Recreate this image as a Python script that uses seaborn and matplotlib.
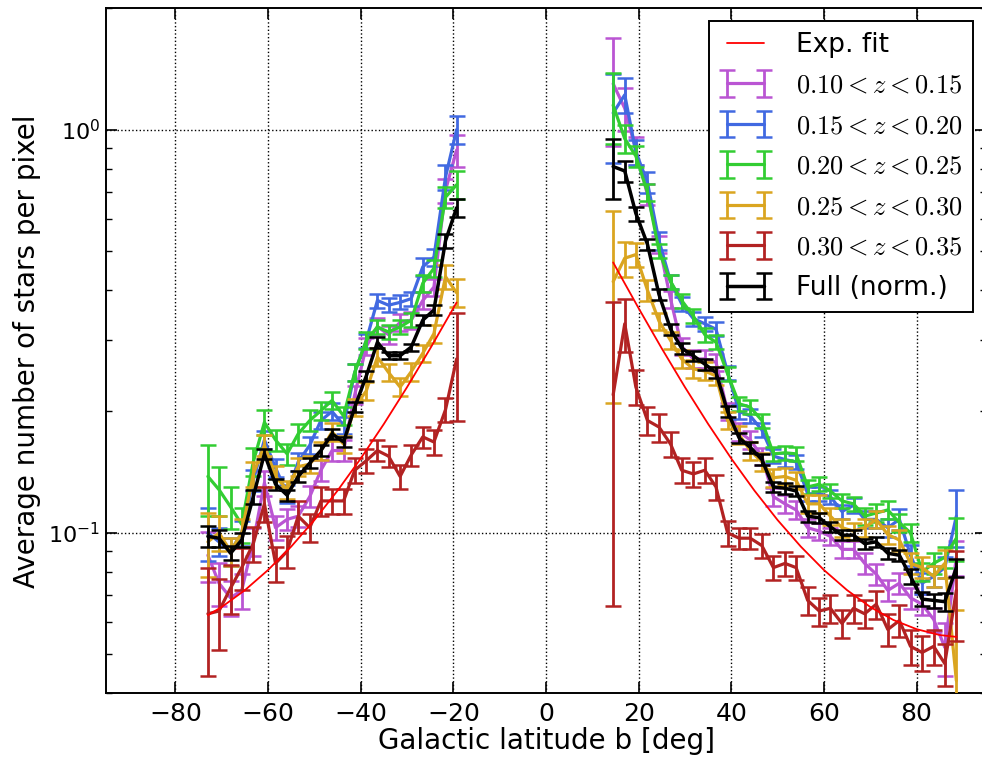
import numpy as np
import pandas as pd
import matplotlib
matplotlib.use("Agg")
import matplotlib.pyplot as plt
import seaborn as sns

# ---------------- data ----------------
b_south = [-73.0, -70.6, -68.1, -65.7, -63.2, -60.8, -58.4, -55.9, -53.5, -51.0, -48.6, -46.2,
           -43.7, -41.3, -38.8, -36.4, -34.0, -31.5, -29.1, -26.6, -24.2, -21.7, -19.3]
b_north = [14.5, 17.0, 19.4, 21.9, 24.4, 26.9, 29.3, 31.8, 34.3, 36.7, 39.2, 41.7, 44.1, 46.6,
           49.1, 51.6, 54.0, 56.5, 59.0, 61.4, 63.9, 66.4, 68.8, 71.3, 73.8, 76.3, 78.7, 81.2,
           83.7, 86.1, 88.6]

labels = [r"$0.10<z<0.15$", r"$0.15<z<0.20$", r"$0.20<z<0.25$",
          r"$0.25<z<0.30$", r"$0.30<z<0.35$", "Full (norm.)"]
colors = ["#BA55D3", "#4169E1", "#32CD32", "#DAA520", "#B22222", "black"]

purple_s = [0.088, 0.075, 0.069, 0.072, 0.095, 0.133, 0.103, 0.108, 0.110, 0.123, 0.143, 0.160,
            0.160, 0.220, 0.290, 0.325, 0.310, 0.333, 0.337, 0.377, 0.407, 0.707, 0.890]
blue_s = [0.100, 0.095, 0.090, 0.100, 0.135, 0.170, 0.145, 0.125, 0.150, 0.165, 0.190, 0.200,
          0.185, 0.250, 0.300, 0.377, 0.367, 0.373, 0.381, 0.457, 0.483, 0.763, 1.000]
green_s = [0.138, 0.128, 0.116, 0.105, 0.150, 0.188, 0.170, 0.157, 0.176, 0.190, 0.201, 0.213,
           0.195, 0.250, 0.300, 0.324, 0.315, 0.324, 0.337, 0.416, 0.453, 0.680, 0.730]
orange_s = [0.095, 0.100, 0.090, 0.100, 0.140, 0.165, 0.138, 0.128, 0.146, 0.148, 0.160, 0.178,
            0.166, 0.205, 0.225, 0.273, 0.250, 0.230, 0.251, 0.279, 0.312, 0.432, 0.394]
red_s = [0.063, 0.064, 0.073, 0.082, 0.094, 0.118, 0.084, 0.090, 0.110, 0.103, 0.120, 0.120,
         0.120, 0.143, 0.151, 0.160, 0.155, 0.138, 0.156, 0.173, 0.168, 0.202, 0.270]
black_s = [0.098, 0.097, 0.089, 0.096, 0.123, 0.157, 0.132, 0.124, 0.138, 0.149, 0.160, 0.176,
           0.168, 0.205, 0.245, 0.297, 0.275, 0.275, 0.289, 0.337, 0.357, 0.530, 0.640]

purple_n = [1.30, 1.13, 0.89, 0.69, 0.52, 0.38, 0.29, 0.27, 0.27, 0.265, 0.20, 0.178, 0.170,
            0.155, 0.123, 0.118, 0.114, 0.103, 0.101, 0.098, 0.091, 0.091, 0.084, 0.079, 0.072,
            0.075, 0.069, 0.0665, 0.061, 0.052, 0.087]
blue_n = [1.10, 1.22, 0.88, 0.74, 0.53, 0.42, 0.37, 0.34, 0.33, 0.32, 0.25, 0.20, 0.195, 0.18,
          0.155, 0.152, 0.150, 0.125, 0.125, 0.123, 0.113, 0.117, 0.108, 0.108, 0.103, 0.108,
          0.088, 0.075, 0.078, 0.082, 0.110]
green_n = [1.15, 0.95, 0.86, 0.70, 0.50, 0.42, 0.377, 0.345, 0.31, 0.297, 0.248, 0.209, 0.205,
           0.19, 0.157, 0.158, 0.157, 0.13, 0.132, 0.127, 0.12, 0.118, 0.11, 0.112, 0.114, 0.106,
           0.10, 0.08, 0.084, 0.087, 0.097]
orange_n = [0.42, 0.48, 0.49, 0.40, 0.335, 0.30, 0.27, 0.255, 0.252, 0.245, 0.19, 0.175, 0.16,
            0.15, 0.137, 0.138, 0.135, 0.118, 0.118, 0.11, 0.103, 0.101, 0.103, 0.108, 0.099,
            0.096, 0.084, 0.082, 0.078, 0.084, 0.043]
red_n = [0.22, 0.33, 0.23, 0.19, 0.183, 0.166, 0.143, 0.14, 0.143, 0.13, 0.10, 0.097, 0.097,
         0.093, 0.082, 0.084, 0.082, 0.068, 0.064, 0.065, 0.0596, 0.065, 0.063, 0.0665, 0.0576,
         0.0606, 0.0523, 0.0505, 0.0523, 0.0474, 0.072]
black_n = [0.81, 0.79, 0.62, 0.52, 0.39, 0.32, 0.287, 0.275, 0.262, 0.25, 0.20, 0.172, 0.163,
           0.152, 0.13, 0.129, 0.127, 0.11, 0.109, 0.1035, 0.0987, 0.0987, 0.094, 0.095, 0.089,
           0.088, 0.078, 0.0685, 0.068, 0.0675, 0.082]

# relative errors (fraction of value)
rel_purple_s = [0.14, 0.12, 0.10, 0.10, 0.08, 0.07, 0.07, 0.06, 0.06, 0.06, 0.06, 0.06, 0.06,
                0.05, 0.05, 0.05, 0.05, 0.05, 0.05, 0.05, 0.05, 0.07, 0.09]
rel_blue_s = [0.15, 0.08, 0.08, 0.07, 0.06, 0.05, 0.05, 0.05, 0.05, 0.05, 0.05, 0.05, 0.05,
              0.05, 0.04, 0.04, 0.04, 0.04, 0.04, 0.05, 0.05, 0.07, 0.08]
rel_green_s = [0.20, 0.14, 0.12, 0.10, 0.08, 0.07, 0.06, 0.06, 0.06, 0.06, 0.05, 0.05, 0.05,
               0.05, 0.05, 0.04, 0.04, 0.04, 0.04, 0.05, 0.05, 0.06, 0.08]
rel_orange_s = [0.18, 0.10, 0.08, 0.08, 0.07, 0.06, 0.06, 0.05, 0.05, 0.05, 0.05, 0.05, 0.05,
                0.05, 0.05, 0.05, 0.05, 0.05, 0.05, 0.05, 0.05, 0.07, 0.08]
rel_red_s = [0.30, 0.20, 0.14, 0.12, 0.10, 0.10, 0.10, 0.09, 0.09, 0.08, 0.08, 0.07, 0.07,
             0.07, 0.07, 0.06, 0.06, 0.07, 0.06, 0.06, 0.07, 0.07, 0.30]
rel_black_s = [0.06, 0.05, 0.04, 0.04, 0.04, 0.03, 0.03, 0.03, 0.03, 0.03, 0.03, 0.03, 0.03,
               0.03, 0.03, 0.03, 0.02, 0.02, 0.02, 0.03, 0.03, 0.04, 0.05]

rel_purple_n = [0.30, 0.12, 0.08, 0.06, 0.05, 0.05, 0.05, 0.05, 0.05, 0.05, 0.05, 0.05, 0.05,
                0.05, 0.05, 0.05, 0.05, 0.05, 0.05, 0.05, 0.05, 0.05, 0.06, 0.06, 0.06, 0.06,
                0.06, 0.06, 0.07, 0.15, 0.10]
rel_blue_n = [0.25, 0.10, 0.07, 0.06, 0.05, 0.04, 0.04, 0.04, 0.04, 0.04, 0.04, 0.04, 0.04,
              0.04, 0.04, 0.04, 0.04, 0.04, 0.04, 0.04, 0.04, 0.04, 0.05, 0.05, 0.05, 0.06,
              0.06, 0.06, 0.06, 0.06, 0.16]
rel_green_n = [0.20, 0.08, 0.06, 0.05, 0.04, 0.04, 0.04, 0.04, 0.04, 0.04, 0.04, 0.04, 0.04,
               0.04, 0.04, 0.04, 0.04, 0.04, 0.04, 0.04, 0.04, 0.04, 0.05, 0.05, 0.05, 0.05,
               0.05, 0.05, 0.06, 0.06, 0.12]
rel_orange_n = [0.50, 0.10, 0.07, 0.06, 0.05, 0.05, 0.05, 0.05, 0.05, 0.05, 0.05, 0.05, 0.05,
                0.05, 0.05, 0.05, 0.05, 0.05, 0.05, 0.05, 0.05, 0.05, 0.05, 0.05, 0.05, 0.06,
                0.06, 0.06, 0.06, 0.08, 0.50]
rel_red_n = [0.70, 0.15, 0.10, 0.08, 0.08, 0.07, 0.07, 0.07, 0.07, 0.07, 0.07, 0.06, 0.06,
             0.07, 0.07, 0.07, 0.07, 0.08, 0.08, 0.08, 0.08, 0.08, 0.08, 0.08, 0.09, 0.09,
             0.10, 0.10, 0.10, 0.12, 0.25]
rel_black_n = [0.17, 0.06, 0.04, 0.03, 0.03, 0.03, 0.03, 0.03, 0.03, 0.03, 0.03, 0.03, 0.03,
               0.03, 0.03, 0.03, 0.03, 0.03, 0.03, 0.03, 0.03, 0.03, 0.03, 0.03, 0.03, 0.03,
               0.04, 0.04, 0.04, 0.05, 0.05]

# exponential fit curve
fit_b_south = [-73.0, -70.0, -65.0, -60.0, -55.0, -50.0, -45.0, -40.0, -35.0, -30.0, -25.0, -19.3]
fit_n_south = [0.0625, 0.0655, 0.0721, 0.0809, 0.0925, 0.1076, 0.1273, 0.1529, 0.1863, 0.2298,
               0.2866, 0.3727]
fit_b_north = [14.5, 17.0, 20.0, 25.0, 30.0, 35.0, 40.0, 45.0, 50.0, 55.0, 60.0, 65.0, 70.0,
               75.0, 80.0, 85.0, 88.6]
fit_n_north = [0.4685, 0.4156, 0.3607, 0.2866, 0.2298, 0.1863, 0.1529, 0.1273, 0.1076, 0.0925,
               0.0809, 0.0721, 0.0655, 0.0608, 0.0577, 0.0558, 0.0552]

south = [purple_s, blue_s, green_s, orange_s, red_s, black_s]
north = [purple_n, blue_n, green_n, orange_n, red_n, black_n]
rel_south = [rel_purple_s, rel_blue_s, rel_green_s, rel_orange_s, rel_red_s, rel_black_s]
rel_north = [rel_purple_n, rel_blue_n, rel_green_n, rel_orange_n, rel_red_n, rel_black_n]

# ---------------- style ----------------
sns.set_style("ticks")
plt.rcParams.update({
    "font.family": ["DejaVu Sans"],
    "mathtext.fontset": "cm",
    "xtick.direction": "in",
    "ytick.direction": "in",
    "xtick.top": True,
    "ytick.right": True,
    "axes.edgecolor": "black",
    "axes.linewidth": 1.4,
    "xtick.color": "black",
    "ytick.color": "black",
    "text.color": "black",
    "axes.labelcolor": "black",
})

fig = plt.figure(figsize=(9.82, 7.59), dpi=100)
ax = fig.add_axes([106 / 982, 65.7 / 759, 880 / 982, 685 / 759])

handles = []
for i, (lab, col) in enumerate(zip(labels, colors)):
    lw = 2.5 if col == "black" else 2.3
    ys, yn = np.array(south[i]), np.array(north[i])
    kw = dict(color=col, lw=lw, elinewidth=2.0, capsize=5.5, capthick=1.8, zorder=3 + i)
    ax.errorbar(b_south, ys, yerr=ys * np.array(rel_south[i]), **kw)
    cont = ax.errorbar(b_north, yn, yerr=yn * np.array(rel_north[i]), label=lab, **kw)
    handles.append(cont)

fit_df = pd.DataFrame({
    "b": fit_b_south + fit_b_north,
    "n": fit_n_south + fit_n_north,
    "side": ["S"] * len(fit_b_south) + ["N"] * len(fit_b_north),
})
sns.lineplot(data=fit_df, x="b", y="n", units="side", estimator=None, color="red",
             lw=1.3, ax=ax, legend=False, zorder=20)
fit_line = ax.get_lines()[-1]

ax.set_yscale("log")
ax.set_xlim(-95, 95)
ax.set_ylim(0.04, 2.0)
ax.set_xticks([-80, -60, -40, -20, 0, 20, 40, 60, 80])
ax.set_xticklabels(["\u221280", "\u221260", "\u221240", "\u221220", "0", "20", "40", "60", "80"])
ax.grid(True, which="major", ls=":", color="black", lw=1.0)
ax.tick_params(which="major", length=8, width=1.2)
ax.tick_params(which="minor", length=4, width=1.0)
ax.tick_params(axis="x", which="minor", bottom=False, top=False)
ax.tick_params(axis="x", which="major", labelsize=18, pad=6)
ax.tick_params(axis="y", which="major", labelsize=16, pad=4)

ax.set_xlabel("Galactic latitude b [deg]", fontsize=20, labelpad=1)
ax.set_ylabel("Average number of stars per pixel", fontsize=20)
ax.yaxis.set_label_coords(-0.074, 0.5)

leg = ax.legend([fit_line] + handles, ["Exp. fit"] + labels, loc="upper right", numpoints=2,
                fontsize=19, frameon=True, fancybox=False, framealpha=1, edgecolor="black",
                borderaxespad=0.5, handlelength=2.0, handletextpad=0.9, labelspacing=0.55,
                borderpad=0.4)
leg.get_frame().set_linewidth(1.4)
leg.set_zorder(30)

fig.savefig("out.png", dpi=100)
